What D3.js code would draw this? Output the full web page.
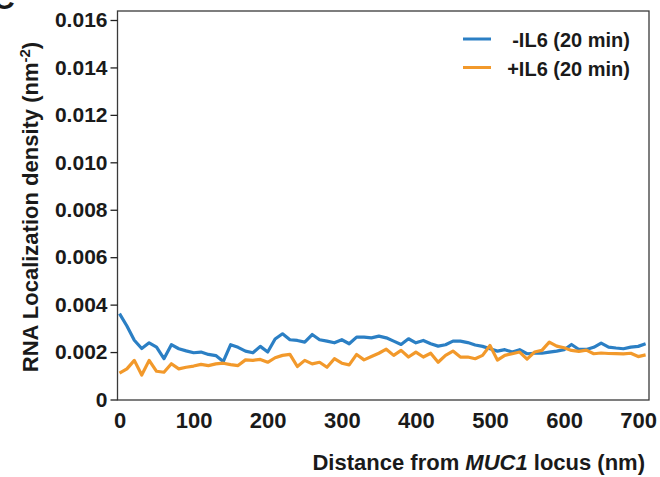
<!DOCTYPE html>
<html>
<head>
<meta charset="utf-8">
<script src="https://cdn.jsdelivr.net/npm/d3@7"></script>
<style>
  html, body { margin: 0; padding: 0; background: #fff; }
  svg { display: block; font-family: "Liberation Sans", Arial, Helvetica, sans-serif; }
</style>
</head>
<body>
<svg id="chart" width="660" height="477"></svg>
<script>
// ---- data ----
const distances = [0,10,20,30,40,50,60,70,80,90,100,110,120,130,140,150,160,170,180,190,
  200,210,220,230,240,250,260,270,280,290,300,310,320,330,340,350,360,370,380,390,
  400,410,420,430,440,450,460,470,480,490,500,510,520,530,540,550,560,570,580,590,
  600,610,620,630,640,650,660,670,680,690,700,710];

const minusIL6 = [0.00362,0.00310,0.00250,0.00215,0.00239,0.00221,0.00172,0.00231,0.00214,0.00205,
  0.00197,0.00200,0.00190,0.00185,0.00160,0.00231,0.00220,0.00204,0.00197,0.00224,
  0.00200,0.00255,0.00277,0.00252,0.00249,0.00242,0.00274,0.00252,0.00246,0.00239,
  0.00252,0.00235,0.00263,0.00263,0.00260,0.00267,0.00260,0.00246,0.00232,0.00256,
  0.00239,0.00249,0.00235,0.00225,0.00231,0.00246,0.00246,0.00240,0.00230,0.00224,
  0.00214,0.00204,0.00210,0.00200,0.00210,0.00193,0.00195,0.00195,0.00200,0.00204,
  0.00210,0.00232,0.00211,0.00211,0.00220,0.00238,0.00221,0.00217,0.00214,0.00221,
  0.00224,0.00235];

const plusIL6 = [0.00111,0.00129,0.00165,0.00103,0.00165,0.00119,0.00115,0.00151,0.00129,0.00136,
  0.00141,0.00148,0.00143,0.00150,0.00153,0.00147,0.00143,0.00167,0.00165,0.00169,
  0.00157,0.00176,0.00186,0.00190,0.00139,0.00165,0.00150,0.00157,0.00136,0.00172,
  0.00153,0.00146,0.00190,0.00167,0.00181,0.00195,0.00212,0.00186,0.00207,0.00179,
  0.00200,0.00179,0.00195,0.00157,0.00186,0.00204,0.00179,0.00179,0.00172,0.00186,
  0.00228,0.00166,0.00186,0.00193,0.00200,0.00170,0.00200,0.00207,0.00242,0.00225,
  0.00218,0.00207,0.00203,0.00208,0.00193,0.00196,0.00194,0.00193,0.00192,0.00195,
  0.00181,0.00188];

const seriesNames = ["-IL6 (20 min)", "+IL6 (20 min)"];
const seriesColors = ["#2b7fc4", "#f2992b"];

const xTicks = [0,100,200,300,400,500,600,700];
const xTickLabels = ["0","100","200","300","400","500","600","700"];
const yTicks = [0,0.002,0.004,0.006,0.008,0.010,0.012,0.014,0.016];
const yTickLabels = ["0","0.002","0.004","0.006","0.008","0.010","0.012","0.014","0.016"];

// ---- layout ----
const svg = d3.select("#chart");
const frame = {left: 117.5, top: 11, right: 649, bottom: 400};
const x = d3.scaleLinear().domain([0, 700]).range([119.5, 638.2]);
const y = d3.scaleLinear().domain([0, 0.016]).range([399.5, 20]);
const textColor = "#1a1a1a";

// panel letter (cropped)
svg.append("text").attr("x", -7).attr("y", 9)
  .attr("font-size", 30).attr("font-weight", "bold").attr("fill", textColor).text("C");

// frame
svg.append("rect")
  .attr("x", frame.left).attr("y", frame.top)
  .attr("width", frame.right - frame.left).attr("height", frame.bottom - frame.top)
  .attr("fill", "none").attr("stroke", "#3a3a3a").attr("stroke-width", 1.3);

// y axis
const yAxis = svg.append("g")
  .attr("transform", `translate(${frame.left},0)`)
  .call(d3.axisLeft(y).tickValues(yTicks).tickFormat((d, i) => yTickLabels[i])
    .tickSize(7).tickSizeOuter(0).tickPadding(3));
yAxis.select(".domain").remove();
yAxis.selectAll(".tick line").attr("stroke", "#222").attr("stroke-width", 1.3);
yAxis.selectAll(".tick text").attr("font-size", 21).attr("font-weight", "bold")
  .attr("fill", textColor).attr("font-family", "Liberation Sans, Arial, sans-serif");

// x axis (labels only)
const xAxis = svg.append("g")
  .attr("transform", `translate(0,${frame.bottom})`)
  .call(d3.axisBottom(x).tickValues(xTicks).tickFormat((d, i) => xTickLabels[i])
    .tickSize(0).tickPadding(12));
xAxis.select(".domain").remove();
xAxis.selectAll(".tick text").attr("font-size", 22).attr("font-weight", "bold")
  .attr("fill", textColor).attr("font-family", "Liberation Sans, Arial, sans-serif");

// lines
const line = d3.line().x(d => x(d[0])).y(d => y(d[1])).curve(d3.curveLinear);
const series = [minusIL6, plusIL6];
series.forEach((vals, k) => {
  svg.append("path")
    .datum(distances.map((dd, i) => [dd, vals[i]]))
    .attr("d", line)
    .attr("fill", "none")
    .attr("stroke", seriesColors[k])
    .attr("stroke-width", 3.2)
    .attr("stroke-linejoin", "round");
});

// legend
const legendRows = [39, 67.5];
seriesNames.forEach((name, k) => {
  svg.append("line")
    .attr("x1", 463).attr("x2", 491)
    .attr("y1", legendRows[k]).attr("y2", legendRows[k])
    .attr("stroke", seriesColors[k]).attr("stroke-width", 3);
  svg.append("text")
    .attr("x", 630).attr("y", legendRows[k] + 8)
    .attr("text-anchor", "end")
    .attr("font-size", 20).attr("font-weight", "bold").attr("fill", textColor)
    .text(name);
});

// x title
const xt = svg.append("text")
  .attr("x", 645).attr("y", 470)
  .attr("text-anchor", "end")
  .attr("font-size", 22).attr("font-weight", "bold").attr("fill", textColor);
xt.append("tspan").text("Distance from ");
xt.append("tspan").attr("font-style", "italic").text("MUC1");
xt.append("tspan").text(" locus (nm)");

// y title
const yt = svg.append("text")
  .attr("transform", "translate(38,207) rotate(-90)")
  .attr("text-anchor", "middle")
  .attr("font-size", 22).attr("font-weight", "bold").attr("fill", textColor);
yt.append("tspan").text("RNA Localization density (nm");
yt.append("tspan").attr("font-size", 15).attr("dy", -8).text("-2");
yt.append("tspan").attr("dy", 8).text(")");
</script>
</body>
</html>
